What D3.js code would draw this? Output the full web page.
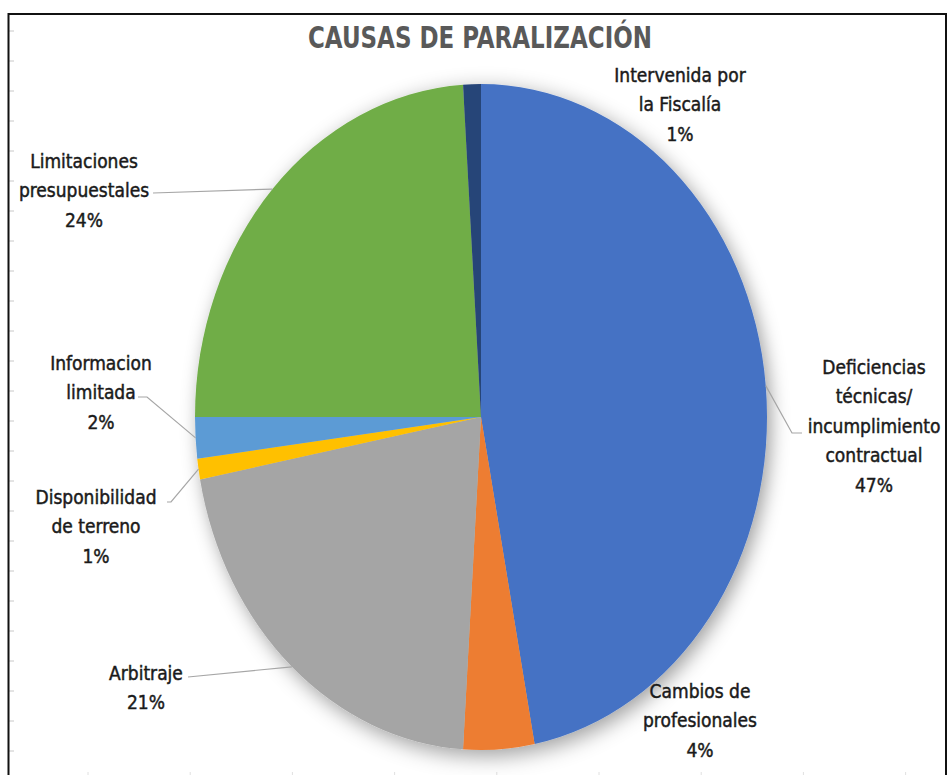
<!DOCTYPE html>
<html>
<head>
<meta charset="utf-8">
<script src="https://cdn.jsdelivr.net/npm/d3@7/dist/d3.min.js"></script>
<style>
  html, body { margin: 0; padding: 0; background: #ffffff; }
  svg { display: block; }
  text { font-family: "Liberation Sans Narrow", "DejaVu Sans Condensed", "Liberation Sans", sans-serif; }
</style>
</head>
<body>
<svg id="chart" width="948" height="775"></svg>
<script>
// Causes of stalled works, share of cases (%)
const categories = [
  "Deficiencias técnicas/ incumplimiento contractual",
  "Cambios de profesionales",
  "Arbitraje",
  "Disponibilidad de terreno",
  "Informacion limitada",
  "Limitaciones presupuestales",
  "Intervenida por la Fiscalía"
];
const values = [47, 4, 21, 1, 2, 24, 1];
const colors = ["#4472C4", "#ED7D31", "#A5A5A5", "#FFC000", "#5B9BD5", "#70AD47", "#264478"];

// Label text broken into lines as set in the chart
const labelLines = [
  ["Deficiencias", "técnicas/", "incumplimiento", "contractual"],
  ["Cambios de", "profesionales"],
  ["Arbitraje"],
  ["Disponibilidad", "de terreno"],
  ["Informacion", "limitada"],
  ["Limitaciones", "presupuestales"],
  ["Intervenida por", "la Fiscalía"]
];

// Label placement: block centre x, first line centre y, and the leader path
// (text end point, optional elbow) that runs to the slice edge
const labelLayout = [
  { cx: 874, y0: 367, leader: [[802, 433], [792, 433]] },
  { cx: 700, y0: 691, leader: null },
  { cx: 146, y0: 673, leader: [[188, 677]] },
  { cx: 96,  y0: 497, leader: [[167, 502], [171, 502]] },
  { cx: 101, y0: 363, leader: [[138, 397], [147, 397]] },
  { cx: 84,  y0: 161, leader: [[153, 193]] },
  { cx: 680, y0: 75,  leader: null }
];

const svg = d3.select("#chart");
const W = 948, H = 775;

// Frame with small gridline ticks along the left and bottom edges
const frame = svg.append("g");
d3.range(31, H, 30).forEach(y => {
  frame.append("line").attr("x1", 9).attr("x2", 14).attr("y1", y).attr("y2", y)
    .attr("stroke", "#c8c8c8").attr("stroke-width", 1);
});
d3.range(88, W - 20, 102.2).forEach(x => {
  frame.append("line").attr("x1", x).attr("x2", x).attr("y1", 772).attr("y2", 775)
    .attr("stroke", "#e0e0e0").attr("stroke-width", 1);
});
frame.append("path")
  .attr("d", `M8.5,${H} V14 H946 V${H}`)
  .attr("fill", "none").attr("stroke", "#111").attr("stroke-width", 2);

// Title
svg.append("text")
  .attr("x", 480).attr("y", 48)
  .attr("text-anchor", "middle")
  .attr("font-size", 30).attr("font-weight", "bold")
  .attr("fill", "#595959")
  .attr("textLength", 344).attr("lengthAdjust", "spacingAndGlyphs")
  .text("CAUSAS DE PARALIZACIÓN");

// Soft outer shadow under the pie
const defs = svg.append("defs");
const f = defs.append("filter").attr("id", "pieShadow")
  .attr("x", "-20%").attr("y", "-20%").attr("width", "140%").attr("height", "140%");
f.append("feDropShadow").attr("dx", 4).attr("dy", 5).attr("stdDeviation", 9)
  .attr("flood-color", "#000").attr("flood-opacity", 0.38);

// Pie: drawn as a circle, then stretched vertically into the chart's ellipse
const cx = 481, cy = 417, rx = 286, ry = 333;
const sy = ry / rx;
const data = categories.map((c, i) => ({ name: c, value: values[i], color: colors[i], i }));
const pie = d3.pie().sort(null).value(d => d.value);
const arcs = pie(data);
const arc = d3.arc().innerRadius(0).outerRadius(rx);

const pg = svg.append("g")
  .attr("transform", `translate(${cx},${cy}) scale(1,${sy})`);
pg.append("g").attr("filter", "url(#pieShadow)")
  .selectAll("path").data(arcs).join("path")
  .attr("d", arc)
  .attr("fill", d => d.data.color);

// Point on the slice edge at its mid angle, in page coordinates
function edgePoint(a) {
  const m = (a.startAngle + a.endAngle) / 2;
  return [cx + rx * Math.sin(m), cy - ry * Math.cos(m)];
}

// Leader lines
arcs.forEach((a, i) => {
  const lay = labelLayout[i];
  if (!lay.leader) return;
  const pts = lay.leader.concat([edgePoint(a)]);
  svg.append("path")
    .attr("d", d3.line()(pts))
    .attr("fill", "none").attr("stroke", "#a6a6a6").attr("stroke-width", 1.2);
});

// Data labels: category lines followed by the percentage
const lineH = 29.5;
arcs.forEach((a, i) => {
  const lay = labelLayout[i];
  const lines = labelLines[i].concat([d3.format(".0f")(a.data.value) + "%"]);
  const t = svg.append("text")
    .attr("text-anchor", "middle")
    .attr("font-size", 19)
    .attr("fill", "#1a1a1a")
    .attr("stroke", "#1a1a1a").attr("stroke-width", 0.45);
  lines.forEach((ln, k) => {
    t.append("tspan").attr("x", lay.cx).attr("y", lay.y0 + k * lineH)
      .attr("dy", "0.35em").text(ln);
  });
});
</script>
</body>
</html>
